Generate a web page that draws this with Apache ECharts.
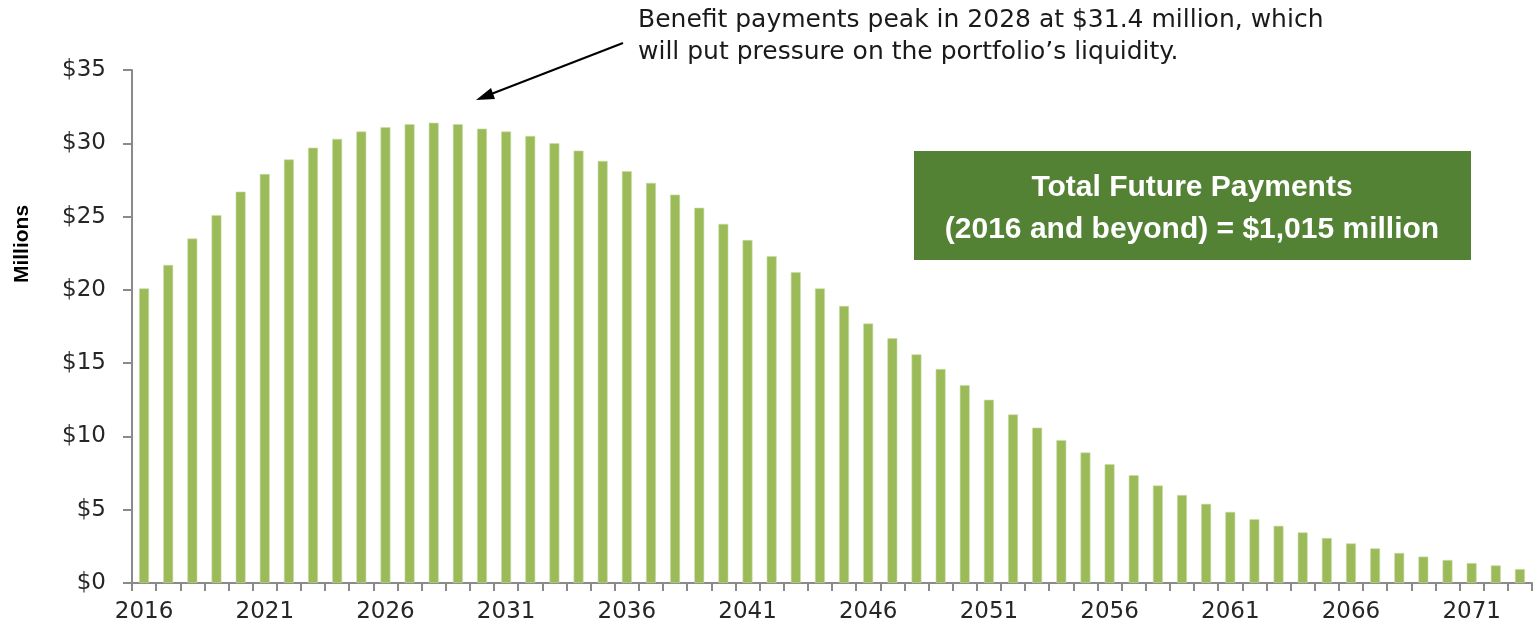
<!DOCTYPE html>
<html>
<head>
<meta charset="utf-8">
<script src="https://cdn.jsdelivr.net/npm/echarts@6/dist/echarts.min.js"></script>
<style>
  html, body { margin: 0; padding: 0; background: #ffffff; }
  #chart { width: 1533px; height: 630px; }
</style>
</head>
<body>
<div id="chart"></div>
<script>
const years = ['2016','2017','2018','2019','2020','2021','2022','2023','2024','2025',
  '2026','2027','2028','2029','2030','2031','2032','2033','2034','2035',
  '2036','2037','2038','2039','2040','2041','2042','2043','2044','2045',
  '2046','2047','2048','2049','2050','2051','2052','2053','2054','2055',
  '2056','2057','2058','2059','2060','2061','2062','2063','2064','2065',
  '2066','2067','2068','2069','2070','2071','2072','2073'];
const payments = [20.1, 21.7, 23.5, 25.1, 26.7, 27.9, 28.9, 29.7, 30.3, 30.8,
  31.1, 31.3, 31.4, 31.3, 31.0, 30.8, 30.5, 30.0, 29.5, 28.8,
  28.1, 27.3, 26.5, 25.6, 24.5, 23.4, 22.3, 21.2, 20.1, 18.9,
  17.7, 16.7, 15.6, 14.6, 13.5, 12.5, 11.5, 10.6, 9.75, 8.9,
  8.1, 7.35, 6.65, 6.0, 5.4, 4.85, 4.35, 3.9, 3.45, 3.07,
  2.7, 2.36, 2.05, 1.8, 1.57, 1.36, 1.2, 0.95];
const yTicks = { min: 0, max: 35, interval: 5 };
const yAxisTitle = 'Millions';
const annotationLines = ['Benefit payments peak in 2028 at $31.4 million, which',
  'will put pressure on the portfolio\u2019s liquidity.'];
const boxLines = ['Total Future Payments', '(2016 and beyond) = $1,015 million'];

const chart = echarts.init(document.getElementById('chart'), null, { renderer: 'canvas' });
const axisGray = '#8a8a8a';
const textFont = 'DejaVu Sans';

chart.setOption({
  animation: false,
  grid: { left: 132, right: 1, top: 70, bottom: 47, containLabel: false, outerBoundsMode: 'none' },
  xAxis: {
    type: 'category',
    data: years,
    boundaryGap: true,
    axisLine: { show: true, lineStyle: { color: axisGray, width: 2 } },
    axisTick: { show: true, interval: 0, length: 8, lineStyle: { color: axisGray, width: 2 } },
    axisLabel: { interval: 4, margin: 18, color: '#262626', fontFamily: textFont, fontSize: 23 },
    splitLine: { show: false }
  },
  yAxis: {
    type: 'value',
    min: yTicks.min, max: yTicks.max, interval: yTicks.interval,
    axisLine: { show: true, lineStyle: { color: axisGray, width: 2 } },
    axisTick: { show: true, length: 9, lineStyle: { color: axisGray, width: 2 } },
    axisLabel: { margin: 26, color: '#262626', fontFamily: textFont, fontSize: 23,
      formatter: v => '$' + v },
    splitLine: { show: false }
  },
  series: [{
    type: 'bar',
    data: payments,
    barWidth: '41%',
    itemStyle: { color: '#9bbb59', borderColor: '#c9dba4', borderWidth: 0.6 }
  }],
  graphic: [
    {
      type: 'text',
      x: 22, y: 244,
      rotation: Math.PI / 2,
      style: {
        text: yAxisTitle,
        font: 'bold 21px "Liberation Sans"',
        fill: '#000',
        align: 'center',
        verticalAlign: 'middle'
      }
    },
    {
      type: 'text',
      left: 638, top: 4,
      style: {
        text: annotationLines.join('\n'),
        font: '25px "DejaVu Sans"',
        fill: '#1a1a1a',
        lineHeight: 32
      }
    },
    {
      type: 'line',
      shape: { x1: 623, y1: 43, x2: 486, y2: 96 },
      style: { stroke: '#000', lineWidth: 2 }
    },
    {
      type: 'polygon',
      shape: { points: [[476, 100], [491, 88], [495, 99]] },
      style: { fill: '#000' }
    },
    {
      type: 'rect',
      shape: { x: 914, y: 151, width: 557, height: 109 },
      style: { fill: '#548235' }
    },
    {
      type: 'text',
      x: 1192, y: 209,
      style: {
        text: boxLines.join('\n'),
        font: 'bold 30px "Liberation Sans"',
        fill: '#ffffff',
        align: 'center',
        verticalAlign: 'middle',
        lineHeight: 42
      }
    }
  ]
});
</script>
</body>
</html>
